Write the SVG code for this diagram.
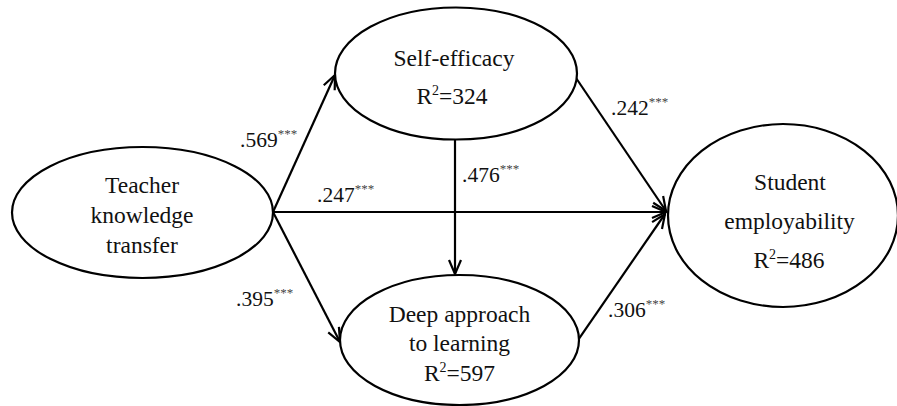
<svg xmlns="http://www.w3.org/2000/svg" width="897" height="406" viewBox="0 0 897 406">
<style>
.node{fill:#fff;stroke:#000;stroke-width:2.2}
.t{font-size:23.5px;fill:#111;text-anchor:middle}
.lab{font-size:21.5px;fill:#111}
.st{font-size:13px;fill:#444}
.sup{font-size:14px}
.edge{stroke:#000;stroke-width:2.2;fill:none;marker-end:url(#arr)}
</style>
<defs>
<marker id="arr" markerUnits="userSpaceOnUse" viewBox="-16 -8 18 16" markerWidth="18" markerHeight="16" refX="0" refY="0" orient="auto">
<path d="M-14,-6 L0,0 L-14,6" fill="none" stroke="#000" stroke-width="2.2"/>
</marker>
</defs>
<rect width="897" height="406" fill="#fff"/>
<g id="connectors">
<line class="edge" x1="273" y1="212" x2="335" y2="75"/>
<line class="edge" x1="273" y1="212" x2="666" y2="212"/>
<line class="edge" x1="273" y1="212" x2="340" y2="342"/>
<line class="edge" x1="455" y1="140" x2="455" y2="274"/>
<line class="edge" x1="574" y1="75" x2="666" y2="211"/>
<line class="edge" x1="578" y1="340" x2="665" y2="214"/>
</g>
<g font-family="Liberation Serif, Times New Roman, serif">
<g id="teacher">
<ellipse class="node" cx="142.5" cy="212.5" rx="130.5" ry="65.5"/>
<text class="t" x="142" y="193">Teacher</text>
<text class="t" x="142" y="223">knowledge</text>
<text class="t" x="142" y="253">transfer</text>
</g>
<g id="selfefficacy">
<ellipse class="node" cx="456" cy="73.5" rx="121" ry="66"/>
<text class="t" x="454" y="66">Self-efficacy</text>
<text class="t" x="452" y="104">R<tspan class="sup" dy="-9">2</tspan><tspan dy="9">=324</tspan></text>
</g>
<g id="deep">
<ellipse class="node" cx="459.5" cy="340" rx="119.5" ry="65"/>
<text class="t" x="459.5" y="322">Deep approach</text>
<text class="t" x="459.5" y="351">to learning</text>
<text class="t" x="459.5" y="381">R<tspan class="sup" dy="-9">2</tspan><tspan dy="9">=597</tspan></text>
</g>
<g id="student">
<ellipse class="node" cx="783" cy="215.5" rx="115" ry="91.5"/>
<text class="t" x="790" y="190">Student</text>
<text class="t" x="789.5" y="229">employability</text>
<text class="t" x="789" y="268">R<tspan class="sup" dy="-9">2</tspan><tspan dy="9">=486</tspan></text>
</g>
<g id="labels">
<text class="lab" x="240" y="147">.569<tspan class="st" dy="-9">***</tspan></text>
<text class="lab" x="317" y="202">.247<tspan class="st" dy="-9">***</tspan></text>
<text class="lab" x="611" y="115">.242<tspan class="st" dy="-9">***</tspan></text>
<text class="lab" x="462" y="182">.476<tspan class="st" dy="-9">***</tspan></text>
<text class="lab" x="236" y="306">.395<tspan class="st" dy="-9">***</tspan></text>
<text class="lab" x="608" y="317">.306<tspan class="st" dy="-9">***</tspan></text>
</g>
</g>
</svg>
